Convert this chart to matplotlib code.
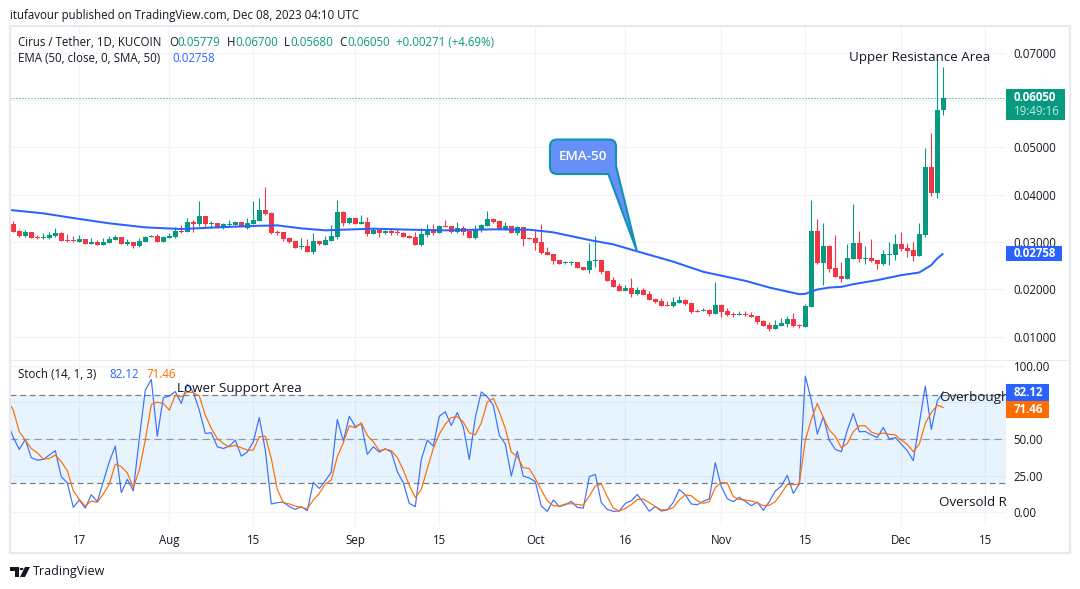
import numpy as np
import pandas as pd
import matplotlib
matplotlib.use("Agg")
import matplotlib.pyplot as plt
from matplotlib.patches import Rectangle, PathPatch, Circle, Polygon
from matplotlib.path import Path

plt.rcParams['font.family'] = ['Open Sans', 'DejaVu Sans']

first_day = pd.Timestamp('2023-07-06')
opens = [.03381,.03240,.03134,.03212,.03106,.03085,.03085,.03127,.03190,.03043,.03043,.03000,.03064,.02958,.03000,.02937,.02979,.03043,.03106,.02958,
.03000,.02916,.03000,.03106,.03127,.03000,.03085,.03106,.03233,.03212,.03423,.03381,.03549,.03381,.03402,.03296,.03359,.03359,.03423,.03296,
.03381,.03444,.03676,.03613,.03212,.03212,.03085,.03021,.02895,.02916,.02789,.03021,.02937,.03021,.03106,.03634,.03402,.03508,.03381,.03423,
.03170,.03254,.03191,.03233,.03212,.03191,.03127,.03106,.02937,.03149,.03233,.03191,.03339,.03339,.03212,.03296,.03233,.03085,.03254,.03339,
.03487,.03444,.03254,.03339,.03191,.03318,.03085,.03085,.03001,.02789,.02747,.02621,.02557,.02557,.02578,.02473,.02409,.02599,.02621,.02388,
.02198,.02071,.01966,.02029,.01903,.01987,.01903,.01797,.01755,.01670,.01649,.01712,.01776,.01707,.01538,.01538,.01559,.01474,.01665,.01538,
.01474,.01453,.01474,.01453,.01432,.01325,.01241,.01156,.01220,.01262,.01368,.01241,.01198,.01622,.03234,.02555,.02916,.02449,.02280,.02216,
.02640,.02979,.02640,.02661,.02619,.02534,.02725,.02725,.02958,.02873,.02831,.02704,.03149,.04590,.04039,.05779]
highs = [.03444,.03254,.03254,.03212,.03141,.03183,.03212,.03296,.03212,.03169,.03127,.03148,.03064,.03085,.03043,.03085,.03127,.03148,.03106,.03064,
.03000,.03085,.03127,.03148,.03169,.03127,.03190,.03317,.03359,.03507,.03465,.03866,.03549,.03444,.03402,.03402,.03465,.03444,.03423,.03507,
.03866,.03930,.04162,.03634,.03254,.03212,.03106,.03021,.03085,.03064,.03190,.03021,.03127,.03359,.03887,.03655,.03529,.03508,.03571,.03529,
.03296,.03254,.03254,.03296,.03275,.03212,.03149,.03212,.03296,.03381,.03381,.03360,.03465,.03339,.03423,.03339,.03254,.03360,.03381,.03655,
.03508,.03465,.03423,.03339,.03339,.03318,.03106,.03275,.03381,.02895,.02747,.02621,.02600,.02600,.02578,.02473,.02980,.03127,.02621,.02388,
.02262,.02135,.02093,.02240,.02050,.02029,.01966,.01797,.01818,.01755,.01839,.01860,.01797,.01728,.01580,.01601,.01580,.02152,.01686,.01601,
.01516,.01538,.01538,.01516,.01432,.01347,.01304,.01347,.01389,.01432,.01495,.01262,.01686,.03891,.03488,.03403,.02937,.03149,.02576,.02958,
.03806,.03234,.02916,.03064,.02619,.02831,.03000,.03170,.03212,.02979,.03000,.03403,.04993,.05311,.06859,.06700]
lows = [.03212,.03113,.03106,.03085,.03064,.03064,.03064,.03106,.03021,.03000,.03000,.03000,.02958,.02958,.02937,.02937,.02979,.03043,.02958,.02937,
.02874,.02895,.03000,.03106,.03000,.03000,.03085,.03085,.03190,.03212,.03212,.03338,.03296,.03296,.03296,.03275,.03338,.03359,.03317,.03275,
.03381,.03444,.03571,.03169,.03148,.03021,.02979,.02874,.02853,.02789,.02747,.02937,.02937,.03021,.03064,.03339,.03381,.03381,.03381,.03127,
.03170,.03106,.03170,.03149,.03149,.03106,.03085,.02937,.02916,.03106,.03149,.03191,.03318,.03191,.03191,.03149,.03085,.03064,.03212,.03339,
.03402,.03275,.03254,.03191,.03149,.02916,.03064,.02832,.02747,.02726,.02536,.02536,.02536,.02515,.02452,.02409,.02346,.02473,.02325,.02177,
.02050,.01966,.01966,.01839,.01881,.01881,.01776,.01712,.01649,.01649,.01628,.01712,.01670,.01495,.01516,.01538,.01432,.01474,.01410,.01432,
.01410,.01453,.01432,.01410,.01262,.01220,.01114,.01156,.01220,.01198,.01198,.01177,.01198,.01622,.02534,.02089,.02364,.02258,.02152,.02216,
.02640,.02576,.02534,.02576,.02428,.02513,.02513,.02619,.02810,.02683,.02598,.02704,.03106,.03976,.03933,.05680]
closes = [.03212,.03134,.03212,.03085,.03085,.03106,.03148,.03190,.03021,.03021,.03021,.03064,.02958,.03000,.02937,.03000,.03064,.03106,.02958,.03000,
.02916,.03021,.03106,.03127,.03000,.03106,.03127,.03233,.03212,.03423,.03381,.03549,.03381,.03402,.03296,.03381,.03381,.03423,.03317,.03402,
.03465,.03676,.03592,.03190,.03190,.03064,.03000,.02874,.02916,.02789,.03021,.02958,.03043,.03127,.03634,.03402,.03508,.03381,.03423,.03170,
.03254,.03191,.03233,.03191,.03191,.03106,.03085,.02937,.03170,.03233,.03191,.03339,.03318,.03212,.03296,.03212,.03085,.03275,.03360,.03487,
.03423,.03275,.03339,.03191,.03318,.03064,.03064,.02980,.02768,.02726,.02599,.02536,.02578,.02578,.02452,.02409,.02599,.02621,.02367,.02177,
.02050,.01966,.02029,.01903,.01987,.01881,.01776,.01734,.01649,.01649,.01734,.01776,.01691,.01516,.01516,.01559,.01474,.01665,.01516,.01453,
.01453,.01474,.01453,.01410,.01304,.01220,.01156,.01241,.01283,.01368,.01220,.01220,.01644,.03234,.02555,.02916,.02428,.02258,.02216,.02661,
.02979,.02640,.02661,.02598,.02534,.02746,.02746,.02958,.02852,.02810,.02704,.03170,.04590,.04039,.05799,.06050]

ema_days = [-1,5,10,16,22,28,34,40,44,48,52,55,60,66,72,80,86,90,96,100,104,110,115,122,126,131,132,134,136,138,140,144,148,151,153,154,155]
ema_vals = [.03683,.03606,.03507,.03395,.03310,.03275,.03310,.03340,.03352,.03289,.03247,.03261,.03282,.03261,.03247,.03268,.03261,.03205,.03043,.02951,
.02803,.02585,.02371,.02181,.02039,.01898,.01905,.01997,.02039,.02053,.02110,.02195,.02301,.02357,.02513,.02654,.02758]

stoch_k = [61.7,51.0,42.9,49.7,37.2,35.6,36.1,39.0,42.0,24.3,20.2,3.4,8.4,2.9,12.0,7.3,20.9,34.5,45.1,13.4,22.5,14.7,50.3,83.2,90.5,51.9,78.2,79.2,82.3,74.2,
87.3,81.9,69.6,53.8,54.2,44.7,43.5,45.1,49.2,38.3,41.1,48.1,64.6,42.4,5.7,6.6,7.0,3.9,2.0,3.9,1.1,20.4,16.3,21.5,27.4,63.3,48.5,65.5,58.3,60.6,
39.5,44.7,41.1,43.3,41.1,27.7,20.2,6.1,3.9,36.1,49.2,45.1,65.5,68.5,59.2,68.0,58.3,36.1,64.6,82.1,78.7,73.0,52.6,46.5,24.7,41.5,24.7,23.4,20.9,4.3,
0.7,8.4,3.9,5.2,7.5,3.4,2.9,24.3,25.9,6.6,2.0,0.7,0.9,6.1,7.9,12.2,6.6,0.7,3.9,0.9,1.6,6.8,15.6,12.0,5.7,5.2,7.5,9.3,33.8,17.5,
9.3,7.3,10.2,7.5,4.5,7.0,1.4,7.3,14.5,17.9,25.2,12.9,19.3,92.8,76.4,53.3,65.1,49.2,42.9,41.3,56.0,67.4,54.9,55.1,52.8,51.0,57.8,49.9,51.0,46.5,
42.0,35.2,60.6,86.0,56.5,76.0,82.12]
stoch_d = [76.9,69.6,54.9,49.2,43.5,40.6,36.3,36.7,39.0,34.5,28.4,14.7,8.8,4.3,7.7,6.8,12.5,19.3,32.9,31.1,27.0,16.8,28.8,49.2,73.5,75.1,74.2,69.6,79.8,78.7,
81.9,81.6,79.2,66.2,57.2,50.3,46.9,44.7,45.6,44.0,42.4,42.4,51.5,51.9,36.7,15.6,6.6,5.7,4.3,3.4,2.5,8.4,12.9,19.3,22.0,37.9,47.4,59.0,57.6,61.0,
52.4,48.1,42.0,43.1,42.0,37.4,28.8,18.4,10.2,15.6,29.9,43.5,53.3,60.1,64.6,65.1,61.5,54.2,52.8,61.0,75.1,77.6,68.5,57.2,41.1,37.9,30.4,29.9,23.1,15.2,
7.9,4.5,4.3,5.7,5.9,5.4,4.8,11.1,17.9,19.3,10.7,2.9,0.9,2.7,5.2,8.8,9.1,6.6,3.9,1.6,1.8,3.2,8.6,11.8,11.3,7.9,6.1,7.3,17.0,20.2,
20.0,10.7,8.8,8.4,7.7,6.6,4.5,4.8,7.3,12.9,19.1,18.8,19.3,49.2,63.3,74.2,64.6,56.0,51.9,44.0,46.9,54.9,59.0,59.0,54.7,53.3,54.0,53.1,52.8,49.2,
46.3,41.3,46.5,60.6,68.0,73.0,71.46]

tick_dates = ['2023-07-17','2023-08-01','2023-08-15','2023-09-01','2023-09-15','2023-10-01','2023-10-16','2023-11-01','2023-11-15','2023-12-01','2023-12-15']
tick_labels = ['17','Aug','15','Sep','15','Oct','16','Nov','15','Dec','15']
price_ticks = [0.01,0.02,0.03,0.04,0.05,0.06,0.07]
price_hidden = [0.06]   # its axis label sits beneath the last-price tag
stoch_grid = [0,25,50,75,100]
stoch_labelled = [0,25,50,100]
last_price = 0.06050
ema_last = 0.02758

GREEN, RED, BLUE, ORANGE = '#089981', '#F23645', '#2962FF', '#FF6D00'
INK, GRID, FRAME = '#131722', '#F0F3FA', '#E8EAF2'
W, H = 1080, 589
FS = 8.3
NOTE = 9.6
PX = 0.72
fig = plt.figure(figsize=(W/100, H/100), dpi=100, facecolor='white')

def rect(x0, y0, x1, y1):
    return [x0/W, 1-y1/H, (x1-x0)/W, (y1-y0)/H]
def P(x, y):
    return (x/W, 1-y/H)
def ftext(x, y, s, **kw):
    kw.setdefault('fontsize', FS); kw.setdefault('color', INK); kw.setdefault('va', 'center')
    return fig.text(x/W, 1-y/H, s, **kw)

ax = fig.add_axes(rect(10, 27, 1006, 359))
sx = fig.add_axes(rect(10, 360, 1006, 526))
xl = (-0.55, 165.45)
tick_days = [(pd.Timestamp(d)-first_day).days for d in tick_dates]

days = np.arange(len(opens))
o, h, l, c = map(np.array, (opens, highs, lows, closes))
cols = np.where(c >= o, GREEN, RED)
ax.vlines(days, l, h, colors=cols, lw=PX*1.1, zorder=3)
ax.bar(days, np.abs(c-o), bottom=np.minimum(o, c), width=0.8, color=cols, lw=0, zorder=3)
ax.plot(ema_days, ema_vals, color=BLUE, lw=2*PX, zorder=4, solid_capstyle='butt')
ax.axhline(last_price, color=GREEN, lw=PX, ls=(0, (1, 2)), zorder=2)
ax.set_xlim(xl); ax.set_ylim(0.00529, 0.07543)
ax.set_yticks(price_ticks)
ax.set_yticklabels(['' if v in price_hidden else f'{v:.5f}' for v in price_ticks])
ax.set_xticks(tick_days); ax.set_xticklabels([])

stoch_days = np.arange(-1, len(opens))
sx.axhspan(20, 80, color='#2196F3', alpha=0.1, lw=0, zorder=1)
for lv in (80, 20):
    sx.axhline(lv, color='#787B86', lw=PX*1.2, ls=(0, (5, 3)), zorder=2)
sx.axhline(50, color='#787B86', lw=PX*1.2, ls=(0, (6, 4)), alpha=0.75, zorder=2)
sx.plot(stoch_days, stoch_k, color=BLUE, lw=PX*1.2, zorder=4, alpha=0.9)
sx.plot(stoch_days, stoch_d, color=ORANGE, lw=PX*1.2, zorder=5)
sx.set_xlim(xl); sx.set_ylim(-9.3, 103.8)
sx.set_yticks(stoch_grid)
sx.set_yticklabels([f'{v:.2f}' if v in stoch_labelled else '' for v in stoch_grid])
sx.set_xticks(tick_days); sx.set_xticklabels(tick_labels)

for a in (ax, sx):
    a.grid(True, color=GRID, lw=PX*1.2, zorder=0); a.set_axisbelow(True)
    a.yaxis.tick_right()
    a.tick_params(length=0, labelsize=FS, labelcolor=INK, pad=5.5)
    for s in a.spines.values():
        s.set_visible(False)
    a.patch.set_alpha(0)

# frame and pane divider
fig.add_artist(Rectangle(P(10, 553), 1060/W, 527/H, transform=fig.transFigure, fill=False, ec=FRAME, lw=1.6))
fig.add_artist(plt.Line2D([10/W, 1070/W], [1-360/H]*2, color=FRAME, lw=PX))

# header and legends
ftext(10, 15, 'itufavour published on TradingView.com, Dec 08, 2023 04:10 UTC')
ftext(18, 42, 'Cirus / Tether, 1D, KUCOIN')
for xp, lab, xv, val in [(169, 'O', 177, '0.05779'), (227, 'H', 235, '0.06700'), (284, 'L', 290, '0.05680'), (339, 'C', 347, '0.06050')]:
    ftext(xp, 42, lab); ftext(xv, 42, val, color=GREEN)
ftext(396, 42, '+0.00271 (+4.69%)', color=GREEN)
ftext(18, 59, 'EMA (50, close, 0, SMA, 50)')
ftext(172, 59, '0.02758', color=BLUE)
ftext(18, 375, 'Stoch (14, 1, 3)')
ftext(109, 375, '82.12', color=BLUE)
ftext(146, 375, '71.46', color=ORANGE)

# drawn notes
ftext(849, 57.5, 'Upper Resistance Area', fontsize=NOTE, zorder=8)
ftext(177, 388.5, 'Lower Support Area', fontsize=NOTE, zorder=8)
t1 = ftext(939, 398, 'Overbought', fontsize=NOTE, zorder=5.5)
t2 = ftext(939, 503, 'Oversold R', fontsize=NOTE, zorder=5.5)

# callout
x0, x1, y0, y1, r = 550, 616, 139.5, 174, 7
verts = [(x0+r, y0), (x1-r, y0), (x1, y0), (x1, y0+r), (x1, 166), (636.7, 250.5), (608.3, y1), (x0+r, y1), (x0, y1), (x0, y1-r), (x0, y0+r), (x0, y0), (x0+r, y0)]
codes = [Path.MOVETO, Path.LINETO, Path.CURVE3, Path.CURVE3, Path.LINETO, Path.LINETO, Path.LINETO, Path.LINETO, Path.CURVE3, Path.CURVE3, Path.LINETO, Path.CURVE3, Path.CURVE3]
fig.add_artist(PathPatch(Path([P(*v) for v in verts], codes), transform=fig.transFigure, fc='#6690F8', ec='#0F93B4', lw=1.5, zorder=6))
ftext(583, 156, 'EMA-50', color='white', fontsize=NOTE, ha='center', zorder=7, fontweight='semibold')

# price tags
def tag(x0, y0, x1, y1, col):
    fig.add_artist(Rectangle(P(x0, y1), (x1-x0)/W, (y1-y0)/H, transform=fig.transFigure, fc=col, ec='none', zorder=6))
tag(1006, 89, 1065, 120, GREEN)
ftext(1014, 97.5, '0.06050', color='white', fontweight='bold', zorder=7)
ftext(1014, 111.5, '19:49:16', color='#C4E8E0', zorder=7)
tag(1006, 246, 1062, 261, BLUE)
ftext(1014, 253.5, '0.02758', color='white', fontweight='bold', zorder=7)
tag(1006, 384, 1049, 401, BLUE)
ftext(1014, 392.5, '82.12', color='white', fontweight='bold', zorder=7)
tag(1006, 401, 1049, 418, ORANGE)
ftext(1014, 409.5, '71.46', color='white', fontweight='bold', zorder=7)

# footer logo
fig.add_artist(Polygon([P(10, 567), P(19, 567), P(19, 577), P(14.5, 577), P(14.5, 571), P(10, 571)], closed=True, transform=fig.transFigure, fc=INK, ec='none'))
fig.add_artist(Polygon([P(25, 567), P(30, 567), P(25, 577), P(20, 577)], closed=True, transform=fig.transFigure, fc=INK, ec='none'))
fig.add_artist(Circle(P(21.5, 569), 2/W, transform=fig.transFigure, fc=INK, ec='none'))
ftext(33, 572, 'TradingView', fontsize=9)

fig.savefig('out.png', dpi=100, facecolor='white')
